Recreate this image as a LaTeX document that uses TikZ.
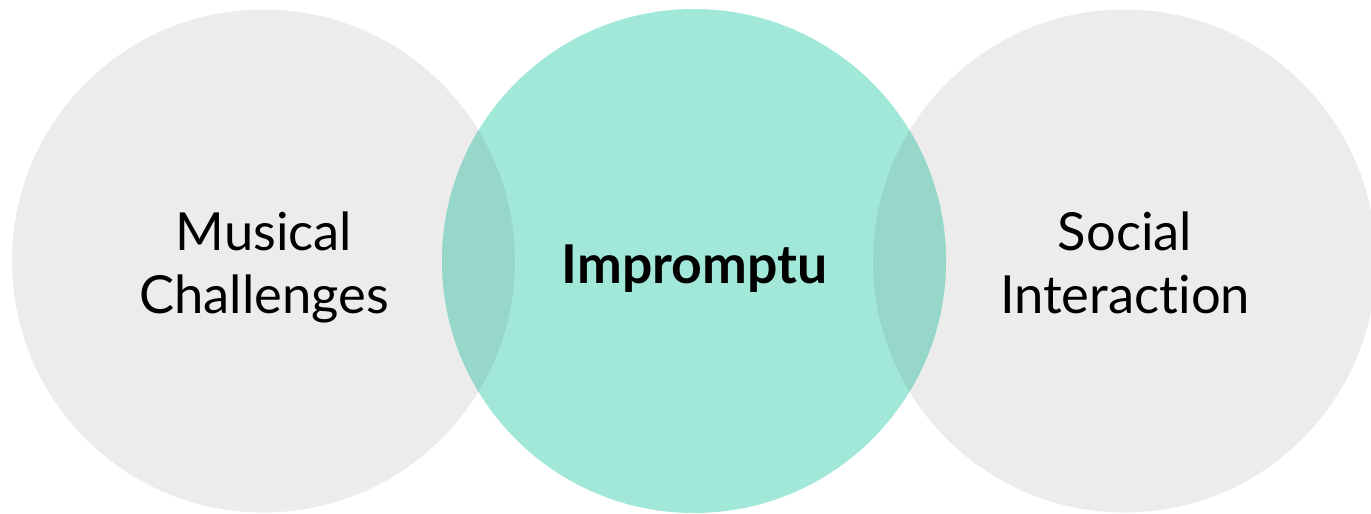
\documentclass[tikz,border=0pt]{standalone}
\usepackage{fontspec}
\setmainfont[Ligatures={NoCommon}]{Lato}
\definecolor{circgray}{HTML}{ECECEC}
\definecolor{circteal}{HTML}{A2E8D9}
\definecolor{overlap}{HTML}{97D7CA}
\begin{document}
\begin{tikzpicture}[x=1pt,y=-1pt,
  lbl/.style={font=\fontsize{52.5}{63}\selectfont, align=center, text=black, inner sep=0pt},
  blbl/.style={font=\fontsize{53.5}{63}\selectfont\bfseries, text=black, inner sep=0pt}]
\useasboundingbox (0,0) rectangle (1371,514);
\fill[circgray] (263.5,261) circle (251.5);
\fill[circgray] (1124.5,261) circle (251.5);
\fill[circteal] (694,261) circle (252);
\begin{scope}
  \clip (694,261) circle (252);
  \fill[overlap] (263.5,261) circle (251.5);
  \fill[overlap] (1124.5,261) circle (251.5);
\end{scope}
\node[lbl, anchor=base] (m1) at (264,250) {Musical};
\node[lbl, anchor=base] (m2) at (264,313) {Challenges};
\node[blbl, anchor=base] (imp) at (694.5,283) {Impromptu};
\node[lbl, anchor=base] (s1) at (1125,250) {Social};
\node[lbl, anchor=base] (s2) at (1125,313) {Interac\kern0pt tion};
\end{tikzpicture}
\end{document}
